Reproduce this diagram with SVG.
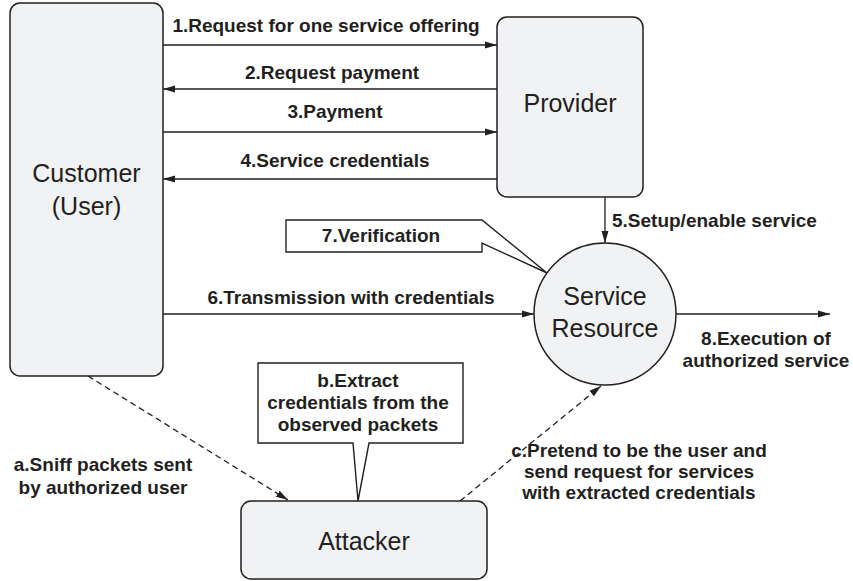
<svg xmlns="http://www.w3.org/2000/svg" width="853" height="581" viewBox="0 0 853 581">
  <style>
    .node { fill: #f1f2f4; stroke: #231f20; stroke-width: 1.5; }
    .call { fill: #ffffff; stroke: #231f20; stroke-width: 1.4; stroke-linejoin: miter; }
    .big { font-family: "Liberation Sans", Arial, sans-serif; font-size: 25px; fill: #231f20; text-anchor: middle; }
    .lbl { font-family: "Liberation Sans", Arial, sans-serif; font-size: 19px; font-weight: bold; fill: #231f20; text-anchor: middle; }
    .st { text-anchor: start; }
    .edge { fill: none; stroke: #231f20; stroke-width: 1.3; marker-end: url(#head); }
    .dash { stroke-dasharray: 6 4; }
  </style>
  <defs>
    <marker id="head" viewBox="0 0 12 8" refX="12" refY="4" markerWidth="12" markerHeight="8" markerUnits="userSpaceOnUse" orient="auto">
      <path d="M0,0.5 L12,4 L0,7.5 Z" fill="#231f20"/>
    </marker>
  </defs>

  <rect width="853" height="581" fill="#ffffff"/>

  <!-- connectors -->
  <g id="connectors">
    <path class="edge" d="M163,45 H497"/>
    <path class="edge" d="M497,89 H163"/>
    <path class="edge" d="M163,132 H497"/>
    <path class="edge" d="M497,179 H163"/>
    <path class="edge" d="M605,197 V243"/>
    <path class="edge" d="M163,314 H534"/>
    <path class="edge" d="M676,314 H830"/>
    <path class="edge dash" d="M88,376 L288,500"/>
    <path class="edge dash" d="M460,501 L601,386"/>

    <text class="lbl" x="326" y="32">1.Request for one service offering</text>
    <text class="lbl" x="332" y="79">2.Request payment</text>
    <text class="lbl" x="335" y="118">3.Payment</text>
    <text class="lbl" x="335" y="167">4.Service credentials</text>
    <text class="lbl st" x="612" y="227">5.Setup/enable service</text>
    <text class="lbl" x="351" y="304">6.Transmission with credentials</text>
    <text class="lbl" x="766" y="345">8.Execution of</text>
    <text class="lbl" x="766" y="367">authorized service</text>
    <text class="lbl" x="103" y="471">a.Sniff packets sent</text>
    <text class="lbl" x="103" y="494">by authorized user</text>
    <text class="lbl" x="639" y="457">c.Pretend to be the user and</text>
    <text class="lbl" x="639" y="478">send request for services</text>
    <text class="lbl" x="639" y="499">with extracted credentials</text>
  </g>

  <!-- nodes -->
  <g id="customer">
    <rect class="node" x="10" y="3" width="153" height="373" rx="10"/>
    <text class="big" x="86.5" y="182">Customer</text>
    <text class="big" x="86.5" y="215">(User)</text>
  </g>

  <g id="provider">
    <rect class="node" x="497" y="17" width="146" height="180" rx="10"/>
    <text class="big" x="570" y="112">Provider</text>
  </g>

  <g id="service-resource">
    <circle class="node" cx="605" cy="314" r="71"/>
    <text class="big" x="605" y="305">Service</text>
    <text class="big" x="605" y="337">Resource</text>
  </g>

  <g id="attacker">
    <rect class="node" x="241" y="501" width="246" height="78" rx="10"/>
    <text class="big" x="364" y="550">Attacker</text>
  </g>

  <g id="verification">
    <path class="call" d="M286,220 H482 L547,273 L482,243 V252 H286 Z"/>
    <text class="lbl" x="381" y="242">7.Verification</text>
  </g>

  <g id="extract">
    <path class="call" d="M258,363 H463 V443 H369 L358,501 L353,443 H258 Z"/>
    <text class="lbl" x="358" y="387">b.Extract</text>
    <text class="lbl" x="358" y="409">credentials from the</text>
    <text class="lbl" x="358" y="431">observed packets</text>
  </g>
</svg>
